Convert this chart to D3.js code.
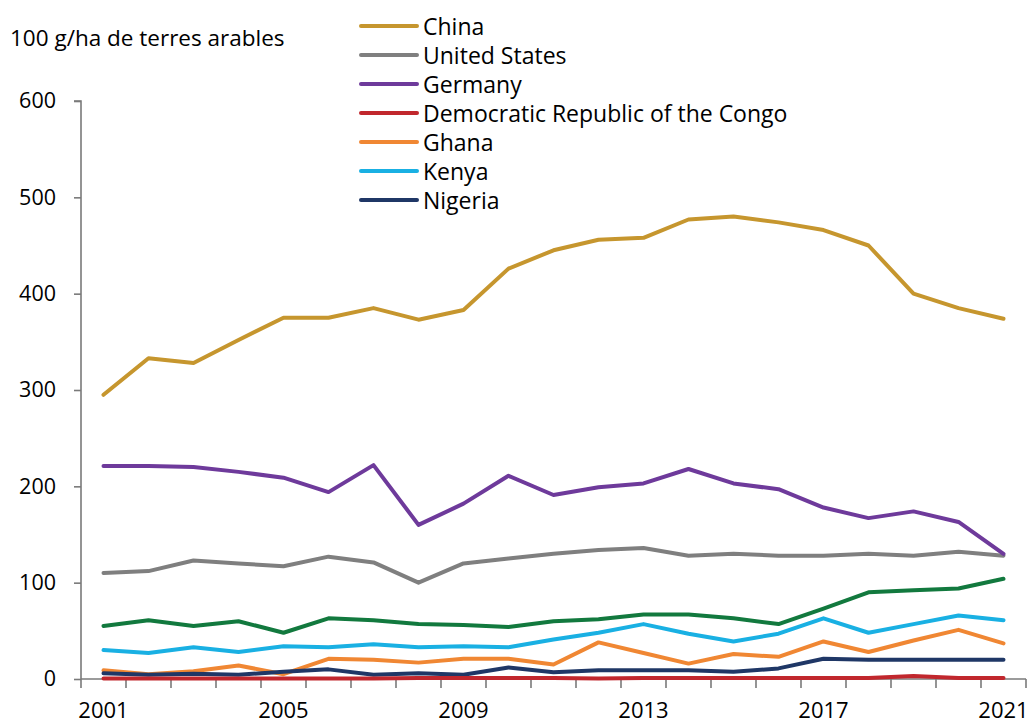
<!DOCTYPE html>
<html>
<head>
<meta charset="utf-8">
<script src="https://cdn.jsdelivr.net/npm/d3@7"></script>
<style>
  html, body { margin: 0; padding: 0; background: #fff; }
  svg text { font-family: "Open Sans", "Noto Sans", sans-serif; fill: #000; }
</style>
</head>
<body>
<svg id="chart" width="1031" height="725"></svg>
<script>
// Years on the x axis
const years = d3.range(2001, 2022);
const tickYears = [2001, 2005, 2009, 2013, 2017, 2021];
const yTicks = [0, 100, 200, 300, 400, 500, 600];

// Series values, 100 g/ha of arable land
const china   = [295, 333, 328, 352, 375, 375, 385, 373, 383, 426, 445, 456, 458, 477, 480, 474, 466, 450, 400, 385, 374];
const usa     = [110, 112, 123, 120, 117, 127, 121, 100, 120, 125, 130, 134, 136, 128, 130, 128, 128, 130, 128, 132, 128];
const germany = [221, 221, 220, 215, 209, 194, 222, 160, 182, 211, 191, 199, 203, 218, 203, 197, 178, 167, 174, 163, 130];
const drc     = [0.5, 0.5, 0.5, 0.5, 0.5, 0.5, 0.5, 1, 1, 1, 1, 0.5, 1, 1, 1, 1, 1, 1, 3, 1, 1];
const ghana   = [9, 5, 8, 14, 5, 21, 20, 17, 21, 21, 15, 38, 27, 16, 26, 23, 39, 28, 40, 51, 37];
const kenya   = [30, 27, 33, 28, 34, 33, 36, 33, 34, 33, 41, 48, 57, 47, 39, 47, 63, 48, 57, 66, 61];
const nigeria = [6, 4.5, 5.5, 4.5, 7.5, 10, 4.5, 6, 4.5, 12, 7, 9, 9, 9, 7.5, 11, 21, 20, 20, 20, 20];
const extra   = [55, 61, 55, 60, 48, 63, 61, 57, 56, 54, 60, 62, 67, 67, 63, 57, 73, 90, 92, 94, 104];

const seriesNames  = ["China", "United States", "Germany", "Democratic Republic of the Congo", "Ghana", "Kenya", "Nigeria"];
const seriesValues = [china, usa, germany, drc, ghana, kenya, nigeria];
const seriesColors = ["#C6962E", "#7F7F7F", "#6E3A9B", "#C1272D", "#F08733", "#19B0E3", "#1F3766"];
const extraColor = "#12793E";

const svg = d3.select("#chart");
const margin = { left: 81, right: 1026, top: 101, bottom: 679 };

const x = d3.scaleBand().domain(years).range([margin.left, margin.right]);
const y = d3.scaleLinear().domain([0, 600]).range([margin.bottom, margin.top]);
const cx = d => x(d) + x.bandwidth() / 2;

// Y axis
const yAxis = svg.append("g")
  .attr("transform", `translate(${margin.left},0)`)
  .call(d3.axisLeft(y).tickValues(yTicks).tickSize(7).tickPadding(18).tickFormat(d3.format("d")));
yAxis.select(".domain").attr("stroke", "#7a7a7a").attr("stroke-width", 1.6)
  .attr("d", `M-7,${y(600)}H0V${y(0)}`);
yAxis.selectAll(".tick line").attr("stroke", "#7a7a7a").attr("stroke-width", 1.6);
yAxis.selectAll(".tick text").attr("font-size", 21.5).attr("font-family", "Open Sans");

// X axis: ticks at band edges, labels every fourth year
const xAxisG = svg.append("g").attr("transform", `translate(0,${margin.bottom})`);
xAxisG.append("line")
  .attr("x1", margin.left).attr("x2", margin.right)
  .attr("stroke", "#7a7a7a").attr("stroke-width", 1.6);
const edges = years.map(d => x(d)).concat([margin.right]);
xAxisG.selectAll("line.tk").data(edges).join("line")
  .attr("class", "tk")
  .attr("x1", d => d).attr("x2", d => d)
  .attr("y1", 0).attr("y2", 9)
  .attr("stroke", "#7a7a7a").attr("stroke-width", 1.6);
xAxisG.selectAll("text").data(tickYears).join("text")
  .attr("x", d => cx(d)).attr("y", 39)
  .attr("text-anchor", "middle").attr("font-size", 22)
  .text(d => d);

// Unit label
svg.append("text").attr("x", 10).attr("y", 46).attr("font-size", 22.5)
  .text("100 g/ha de terres arables");

// Lines
const line = d3.line().x((d, i) => cx(years[i])).y(d => y(d));
const plot = svg.append("g").attr("fill", "none").attr("stroke-width", 4)
  .attr("stroke-linejoin", "round").attr("stroke-linecap", "round");

plot.append("path").datum(extra).attr("stroke", extraColor).attr("d", line);
const order = [0, 1, 2, 4, 5, 6, 3];
order.forEach(i => {
  plot.append("path").datum(seriesValues[i]).attr("stroke", seriesColors[i]).attr("d", line);
});

// Legend
const legend = svg.append("g");
const rowY = d3.scaleLinear().domain([0, 6]).range([26, 200]);
seriesNames.forEach((name, i) => {
  const g = legend.append("g").attr("transform", `translate(0,${rowY(i)})`);
  g.append("line").attr("x1", 361).attr("x2", 417).attr("y1", 0).attr("y2", 0)
    .attr("stroke", seriesColors[i]).attr("stroke-width", 4).attr("stroke-linecap", "round");
  g.append("text").attr("x", 423).attr("y", 8.5).attr("font-size", 23).text(name);
});
</script>
</body>
</html>
